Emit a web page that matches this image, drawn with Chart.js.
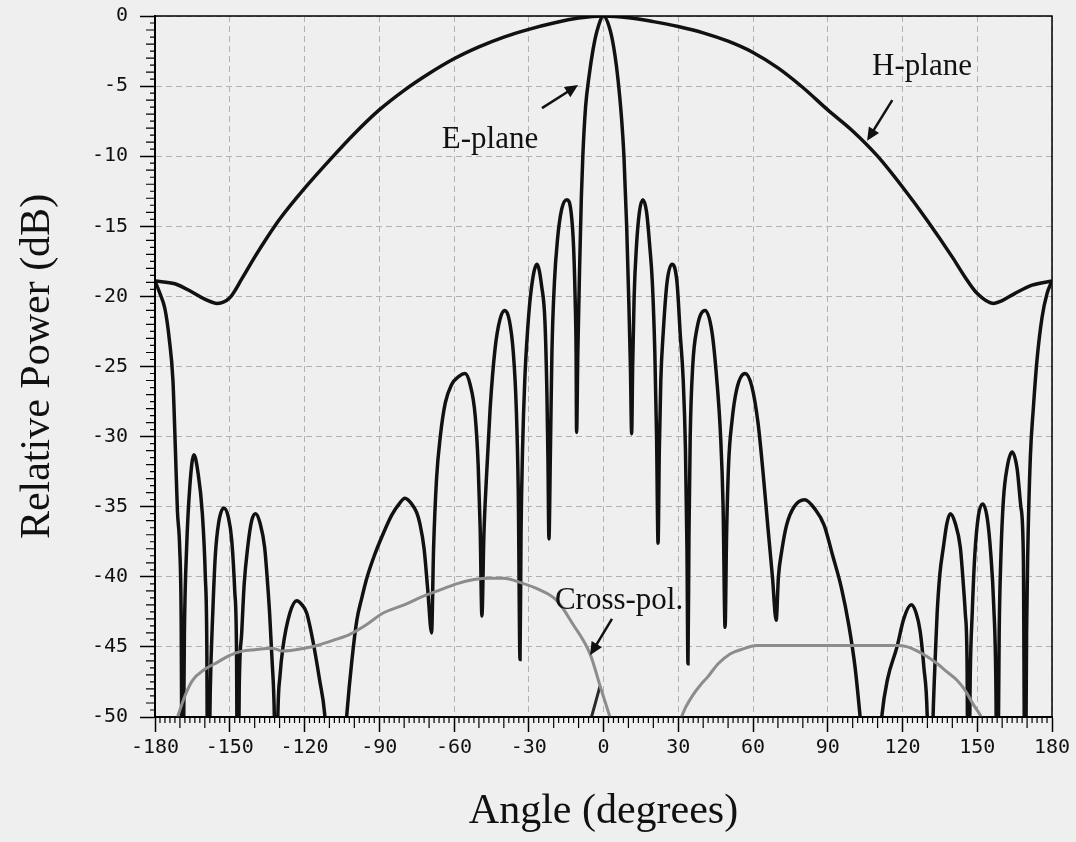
<!DOCTYPE html>
<html>
<head>
<meta charset="utf-8">
<script src="https://cdn.jsdelivr.net/npm/chart.js"></script>
<style>
  html, body { margin: 0; padding: 0; background: #efefef; }
  #wrap { width: 1076px; height: 842px; position: relative; }
</style>
</head>
<body>
<div id="wrap"><canvas id="myChart"></canvas></div>
<script>
// H-plane pattern (dB vs angle in degrees)
let hPlaneAngles = [-180, -172, -165, -160, -155, -150, -145, -140, -135, -130, -120, -110, -100, -90, -80, -70, -60, -50, -40, -30, -20, -10, 0,
    10, 20, 30, 40, 50, 60, 70, 80, 90, 100, 110, 120, 130, 140, 145, 150, 156.5, 160, 165, 172, 180];
let hPlaneValues = [-18.9, -19.1, -19.7, -20.2, -20.5, -20.1, -18.7, -17.2, -15.8, -14.5, -12.3, -10.3, -8.4, -6.7, -5.3, -4.1, -3.05, -2.2, -1.5, -0.95, -0.5, -0.15, 0,
    -0.12, -0.4, -0.75, -1.2, -1.8, -2.6, -3.7, -5.1, -6.7, -8.2, -10.0, -12.2, -14.6, -17.2, -18.6, -19.8, -20.5, -20.3, -19.8, -19.2, -18.9];

// E-plane pattern
let ePlaneAngles = [-180, -178, -176, -174.3, -172.8, -171.8, -171, -170.1, -169.5, -169,
    -168.2, -167.3, -166, -164.4, -162.8, -161, -159.8, -159.2, -158.8,
    -157.8, -156.8, -155.8, -154.5, -152.4, -150.5, -149.2, -148, -147.3, -146.8,
    -146.2, -145.2, -144.2, -142.8, -141.2, -139.6, -137.8, -136, -134.8, -134, -133, -132.1, -131.4,
    -130.7, -129.8, -128.7, -125.9, -123.1, -121, -119.1, -116.6, -113.9, -111.9, -110.8, -107.5,
    -104.3, -103, -101, -99, -97, -95, -92, -88.6, -85, -82, -79.7, -77, -75, -73.7, -72, -70.5, -69,
    -68.2, -67, -65.5, -63.5, -61, -58, -55.6, -53.5, -51.5, -50.3, -49.5, -48.8,
    -48, -47, -45.5, -43.5, -41.5, -39.6, -37.8, -36.2, -35, -34.2, -33.5,
    -33.1, -32.5, -31.6, -30.5, -29, -26.7, -24.8, -23.5, -22.7, -22.3, -21.9,
    -21.3, -20.7, -19.7, -18.5, -16.8, -14.7, -13, -12, -11.4, -11, -10.8,
    -10.3, -9.6, -8.9, -8.3, -7.2, -5.8, -4.2, -2.5, 0, 2.8, 4.6, 5.8, 7.2, 8.2, 9.3, 10.1, 10.8, 11.3,
    11.7, 12.3, 13.2, 14.4, 15.8, 17.3, 18.6, 19.6, 20.6, 21.3, 21.9,
    22.4, 23, 24, 25.5, 27.5, 29.5, 30.8, 32, 32.9, 33.5, 33.9,
    34.3, 34.8, 35.8, 37.5, 40.8, 43.5, 45.5, 47, 48, 48.8,
    49.4, 50.2, 51.5, 53.5, 56.8, 59.5, 62, 64, 66, 67.8, 69.3,
    70.2, 71.5, 73.5, 76.5, 80.7, 85, 88.5, 92, 95.5, 98.5, 101, 103, 104.5, 107.5,
    110.5, 111.8, 114, 117.8, 120.5, 123.5, 125.5, 127.1, 128.6, 129.9, 131,
    132.3, 133.2, 133.9, 135, 136.4, 137.8, 139.2, 141.2, 143.2, 144.4, 145.2, 145.9, 146.4,
    147.2, 148, 149, 150.5, 152.2, 154, 155.4, 156.6, 157.5, 158,
    158.8, 159.5, 160.5, 162, 164, 166, 167.5, 168.5, 169.2,
    169.8, 170.3, 171.3, 172.5, 174, 176, 178, 180];
let ePlaneValues = [-18.9, -19.8, -20.9, -23, -26, -31, -35.3, -37.9, -43, -60,
    -44, -37.9, -33.5, -31.3, -32.5, -35.5, -40, -45, -60,
    -48, -42.5, -38.5, -36.2, -35.1, -35.8, -37.4, -41, -45, -60,
    -48, -44, -40.5, -37.9, -36, -35.5, -36.2, -37.9, -40.5, -42.6, -46, -50, -60,
    -50, -47, -45.1, -42.6, -41.7, -42, -42.6, -44.6, -47.4, -49.8, -53, -60,
    -53, -49.8, -46, -43.1, -41.5, -40.1, -38.5, -37, -35.6, -34.8, -34.4, -34.8, -35.4, -36.2, -38, -41, -44,
    -38, -33, -30, -27.6, -26.3, -25.7, -25.5, -26.3, -28.5, -32, -36.5, -42.8,
    -37, -33, -28, -23.7, -21.6, -21, -21.7, -24, -28, -34, -45.9,
    -37, -31, -26, -22.5, -19.5, -17.7, -19.3, -21.8, -27, -31.5, -37.3,
    -31, -24, -19, -16, -13.8, -13.1, -14, -16.5, -20, -24, -29.7,
    -24, -18, -13, -10, -6.5, -4.3, -2.4, -1.0, 0, -1.1, -2.8, -4.5, -7.2, -10, -15, -20, -25, -29.8,
    -25, -20, -16.5, -14, -13.1, -14, -16.5, -19, -24, -30, -37.6,
    -31, -26, -22.5, -19, -17.7, -19, -22.7, -26, -31, -38, -46.2,
    -37, -30, -25, -22.3, -21, -22.5, -26, -30, -35, -43.6,
    -37, -32, -29, -26.6, -25.5, -26.4, -29, -32.5, -36.5, -40, -43.1,
    -40, -38.2, -36.3, -35, -34.5, -35.2, -36.3, -38.5, -40.8, -43.5, -46.5, -50, -53, -60,
    -53, -49.8, -47.3, -45, -43, -42, -42.6, -43.9, -46.5, -49.8, -60,
    -49.8, -45.5, -42.6, -39.8, -37.9, -36.2, -35.5, -36.2, -37.9, -40.5, -42.6, -46, -60,
    -47, -42.5, -38.5, -35.6, -34.8, -35.8, -38.3, -42, -48, -60,
    -44, -38.5, -34.5, -32.2, -31.1, -32.3, -35, -38.5, -60,
    -44, -38, -31.5, -28, -24.5, -21.5, -19.8, -18.9];

// Cross-polar pattern, two branches
let crossLeftAngles = [-171.5, -168, -165, -160, -155, -150, -145, -140, -133, -128.7, -120, -115, -108, -101.8, -95, -88.6, -80, -72.5, -65, -59, -52, -45.6, -40, -33.5, -26, -18.7, -12.2, -5.4, -1, 3.5];
let crossLeftValues = [-50.3, -48.5, -47.4, -46.6, -46.1, -45.6, -45.3, -45.2, -45.1, -45.3, -45.1, -44.9, -44.5, -44.1, -43.4, -42.6, -42, -41.4, -40.9, -40.5, -40.2, -40.1, -40.1, -40.4, -40.9, -41.7, -43.4, -45.5, -48, -50.5];
let crossRightAngles = [30.6, 33, 36, 39, 42, 46, 50.8, 55, 61.6, 75, 90, 105, 118, 122, 126, 130, 134, 138, 142, 145.5, 148.4, 151, 153.2];
let crossRightValues = [-50.3, -49.3, -48.4, -47.7, -47.1, -46.2, -45.5, -45.2, -44.9, -44.9, -44.9, -44.9, -44.9, -45, -45.3, -45.7, -46.2, -46.8, -47.4, -48.2, -49.1, -49.8, -50.5];
let crossDarkAngles = [-5.6, -1.4];
let crossDarkValues = [-50.5, -47.8];

// labels written on the plot
let noteTexts = ['E-plane', 'H-plane', 'Cross-pol.'];
let noteAngles = [-64.9, 107.8, -19.5];
let noteValues = [-9.43, -4.21, -42.3];
let arrowFromAngles = [-24.7, 115.9, 3.4];
let arrowFromValues = [-6.57, -6.0, -43.0];
let arrowToAngles = [-10.2, 105.8, -5.4];
let arrowToValues = [-4.93, -8.9, -45.6];

function toPoints(angles, values) {
    let points = [];
    for (let i = 0; i < angles.length; i++) {
        points.push({ x: angles[i], y: values[i] });
    }
    return points;
}

function drawArrow(ctx, x1, y1, x2, y2) {
    let ang = Math.atan2(y2 - y1, x2 - x1);
    let len = 13;
    ctx.beginPath();
    ctx.moveTo(x1, y1);
    ctx.lineTo(x2 - Math.cos(ang) * len * 0.8, y2 - Math.sin(ang) * len * 0.8);
    ctx.lineWidth = 2.5;
    ctx.stroke();
    ctx.beginPath();
    ctx.moveTo(x2, y2);
    ctx.lineTo(x2 - len * Math.cos(ang) + 6 * Math.sin(ang), y2 - len * Math.sin(ang) - 6 * Math.cos(ang));
    ctx.lineTo(x2 - len * Math.cos(ang) - 6 * Math.sin(ang), y2 - len * Math.sin(ang) + 6 * Math.cos(ang));
    ctx.closePath();
    ctx.fill();
}

const decor = {
    id: 'decor',
    beforeDraw(chart) {
        const ctx = chart.ctx;
        ctx.save();
        ctx.fillStyle = '#efefef';
        ctx.fillRect(0, 0, chart.width, chart.height);
        ctx.restore();
    },
    afterDraw(chart) {
        const ctx = chart.ctx;
        const area = chart.chartArea;
        const xs = chart.scales.x;
        const ys = chart.scales.y;
        ctx.save();
        ctx.strokeStyle = '#000';
        ctx.fillStyle = '#000';

        // minor ticks
        ctx.lineWidth = 1.2;
        ctx.beginPath();
        for (let a = -180; a <= 180; a += 2) {
            if (a % 30 == 0) continue;
            let len = (a % 10 == 0) ? 11 : 6;
            let px = xs.getPixelForValue(a);
            ctx.moveTo(px, area.bottom);
            ctx.lineTo(px, area.bottom + len);
        }
        for (let i = 1; i < 100; i++) {
            if (i % 10 == 0) continue;
            let len = (i % 2 == 0) ? 9 : 5;
            let py = ys.getPixelForValue(-i / 2);
            ctx.moveTo(area.left, py);
            ctx.lineTo(area.left - len, py);
        }
        ctx.stroke();

        // frame
        ctx.lineWidth = 1.5;
        ctx.strokeRect(area.left, area.top, area.right - area.left, area.bottom - area.top);

        // notes and arrows
        ctx.fillStyle = '#111';
        ctx.strokeStyle = '#111';
        ctx.font = '31px "Liberation Serif"';
        ctx.textAlign = 'left';
        ctx.textBaseline = 'alphabetic';
        for (let i = 0; i < noteTexts.length; i++) {
            ctx.fillText(noteTexts[i], xs.getPixelForValue(noteAngles[i]), ys.getPixelForValue(noteValues[i]));
            drawArrow(ctx,
                xs.getPixelForValue(arrowFromAngles[i]), ys.getPixelForValue(arrowFromValues[i]),
                xs.getPixelForValue(arrowToAngles[i]), ys.getPixelForValue(arrowToValues[i]));
        }
        ctx.restore();
    }
};

let lineBase = {
    pointRadius: 0,
    cubicInterpolationMode: 'monotone',
    fill: false
};

const ctx = document.getElementById('myChart');
new Chart(ctx, {
    type: 'line',
    data: {
        datasets: [
            Object.assign({ label: 'Cross-pol.', data: toPoints(crossLeftAngles, crossLeftValues), borderColor: '#8c8c8c', borderWidth: 3, order: 0 }, lineBase),
            Object.assign({ label: 'Cross-pol. ', data: toPoints(crossRightAngles, crossRightValues), borderColor: '#8c8c8c', borderWidth: 3, order: 0 }, lineBase),
            Object.assign({ label: 'Cross-pol. (inner)', data: toPoints(crossDarkAngles, crossDarkValues), borderColor: '#2a2a2a', borderWidth: 3, order: 0 }, lineBase),
            Object.assign({ label: 'E-plane', data: toPoints(ePlaneAngles, ePlaneValues), borderColor: '#111', borderWidth: 3.5, order: 1 }, lineBase),
            Object.assign({ label: 'H-plane', data: toPoints(hPlaneAngles, hPlaneValues), borderColor: '#111', borderWidth: 3.5, order: 1 }, lineBase)
        ]
    },
    options: {
        responsive: true,
        maintainAspectRatio: false,
        animation: false,
        layout: { padding: { top: 16, right: 24, bottom: 0, left: 0 } },
        plugins: {
            legend: { display: false },
            tooltip: { enabled: false }
        },
        scales: {
            x: {
                type: 'linear',
                min: -180,
                max: 180,
                afterFit: (scale) => {
                    scale.height = 125;
                    scale.paddingLeft = 0;
                    scale.paddingRight = 0;
                },
                ticks: {
                    stepSize: 30,
                    autoSkip: false,
                    maxRotation: 0,
                    padding: 4,
                    color: '#111',
                    font: { family: 'DejaVu Sans Mono', size: 20 }
                },
                grid: {
                    color: '#b2b2b2',
                    lineWidth: 1,
                    tickLength: 15,
                    tickColor: '#000',
                    tickWidth: 1.5,
                    tickBorderDash: []
                },
                border: { display: true, color: '#000', width: 2, dash: [6, 4] },
                title: {
                    display: true,
                    text: 'Angle (degrees)',
                    color: '#111',
                    font: { family: 'Liberation Serif', size: 42, weight: 'normal' },
                    padding: { top: 0, bottom: 5 }
                }
            },
            y: {
                min: -50,
                max: 0,
                afterFit: (scale) => {
                    scale.width = 155;
                    scale.paddingTop = 0;
                    scale.paddingBottom = 0;
                },
                ticks: {
                    stepSize: 5,
                    autoSkip: false,
                    padding: 12,
                    color: '#111',
                    font: { family: 'DejaVu Sans Mono', size: 20 }
                },
                grid: {
                    color: '#b2b2b2',
                    lineWidth: 1,
                    tickLength: 15,
                    tickColor: '#000',
                    tickWidth: 1.5,
                    tickBorderDash: []
                },
                border: { display: true, color: '#000', width: 2, dash: [6, 4] },
                title: {
                    display: true,
                    text: 'Relative Power (dB)',
                    color: '#111',
                    font: { family: 'Liberation Serif', size: 42, weight: 'normal' },
                    padding: { top: 13, bottom: 0 }
                }
            }
        }
    },
    plugins: [decor]
});
</script>
</body>
</html>
